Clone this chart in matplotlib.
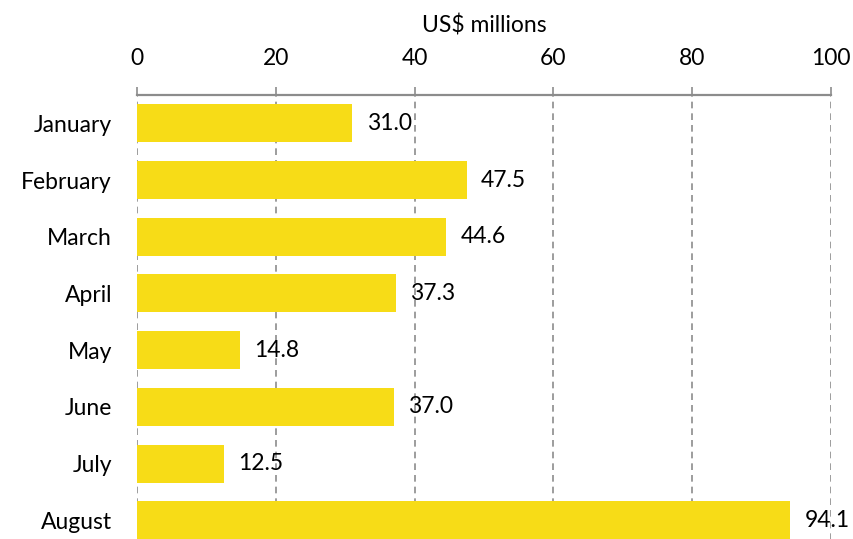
import matplotlib
matplotlib.use("Agg")
import matplotlib.pyplot as plt

# monthly values, US$ millions
months = ["January", "February", "March", "April", "May", "June", "July", "August"]
values = [31.0, 47.5, 44.6, 37.3, 14.8, 37.0, 12.5, 94.1]
xticks = [0, 20, 40, 60, 80, 100]

BAR_COLOR = "#F7DC17"
GRID_COLOR = "#8C8C8C"
DPI = 100
FS = 16.5

plt.rcParams["font.family"] = ["Lato", "DejaVu Sans"]

fig = plt.figure(figsize=(854 / DPI, 539 / DPI), dpi=DPI)
ax = fig.add_axes([0.1604, -0.0178, 0.8126, 0.8415])

ypos = list(range(len(months)))
ax.barh(ypos, values, height=0.67, color=BAR_COLOR, zorder=2)

for y, v in zip(ypos, values):
    ax.text(v + 2.1, y, f"{v:.1f}", va="center", ha="left", fontsize=FS, zorder=3)

ax.set_xlim(0, 100)
ax.set_ylim(len(months) - 0.5, -0.5)
ax.set_yticks(ypos)
ax.set_yticklabels(months, fontsize=FS)
ax.set_xticks(xticks)
ax.set_xticklabels([str(t) for t in xticks], fontsize=FS)

ax.xaxis.tick_top()
ax.xaxis.set_label_position("top")
ax.set_xlabel("US$ millions", fontsize=FS, labelpad=11)

ax.grid(axis="x", color=GRID_COLOR, linestyle=(0, (4, 3)), linewidth=1.2, zorder=1)
for s in ["left", "right", "bottom"]:
    ax.spines[s].set_visible(False)
ax.spines["top"].set_color(GRID_COLOR)
ax.spines["top"].set_linewidth(1.6)
ax.tick_params(axis="x", direction="out", length=6, width=1.2, color=GRID_COLOR, pad=13)
ax.tick_params(axis="y", length=0, pad=18)

fig.savefig("out.png", dpi=DPI)
